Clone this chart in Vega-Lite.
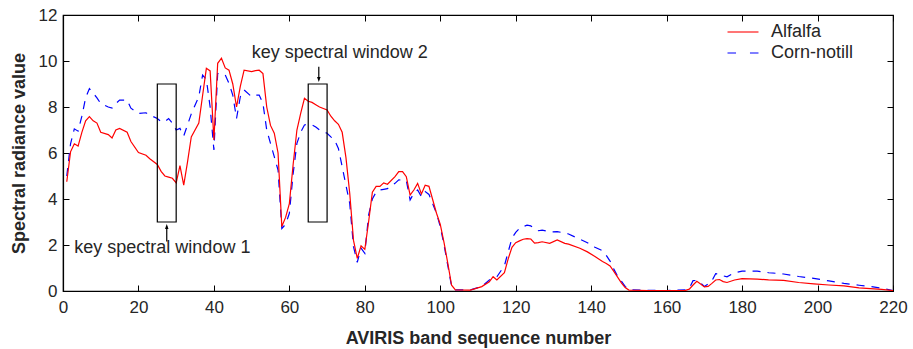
{
  "$schema": "https://vega.github.io/schema/vega-lite/v6.json",
  "width": 830,
  "height": 276,
  "autosize": "none",
  "padding": {"left": 63, "top": 15, "right": 20, "bottom": 58},
  "config": {
    "view": {"stroke": "black", "strokeWidth": 1.2},
    "font": "Liberation Sans",
    "axis": {
      "grid": false,
      "domainColor": "black",
      "domainWidth": 1.2,
      "tickColor": "black",
      "tickWidth": 1,
      "tickSize": -6,
      "labelColor": "#262626",
      "labelFont": "Liberation Sans",
      "labelFontSize": 17,
      "titleFont": "Liberation Sans",
      "titleFontSize": 18,
      "titleFontWeight": "bold",
      "titleColor": "#262626"
    }
  },
  "datasets": {
    "spec": [
      {"b": 1, "Alfalfa": 4.75, "Corn-notill": 5.0},
      {"b": 2, "Alfalfa": 6.05, "Corn-notill": 6.4},
      {"b": 3, "Alfalfa": 6.4, "Corn-notill": 7.05},
      {"b": 4, "Alfalfa": 6.3, "Corn-notill": 6.95},
      {"b": 5, "Alfalfa": 6.9, "Corn-notill": 7.6},
      {"b": 6, "Alfalfa": 7.4, "Corn-notill": 8.4},
      {"b": 7, "Alfalfa": 7.58, "Corn-notill": 8.8},
      {"b": 8, "Alfalfa": 7.4, "Corn-notill": 8.6},
      {"b": 9, "Alfalfa": 7.3, "Corn-notill": 8.4},
      {"b": 10, "Alfalfa": 6.9, "Corn-notill": 8.15},
      {"b": 12, "Alfalfa": 6.8, "Corn-notill": 8.0},
      {"b": 13, "Alfalfa": 6.65, "Corn-notill": 7.95},
      {"b": 14, "Alfalfa": 7.0, "Corn-notill": 8.15},
      {"b": 15, "Alfalfa": 7.07, "Corn-notill": 8.3},
      {"b": 17, "Alfalfa": 6.9, "Corn-notill": 8.3},
      {"b": 18, "Alfalfa": 6.5, "Corn-notill": 7.95},
      {"b": 20, "Alfalfa": 6.02, "Corn-notill": 7.72},
      {"b": 22, "Alfalfa": 5.9, "Corn-notill": 7.75},
      {"b": 23, "Alfalfa": 5.75, "Corn-notill": 7.65},
      {"b": 25, "Alfalfa": 5.5, "Corn-notill": 7.5},
      {"b": 26, "Alfalfa": 5.2, "Corn-notill": 7.36},
      {"b": 27, "Alfalfa": 5.0, "Corn-notill": 7.36},
      {"b": 28, "Alfalfa": 4.95, "Corn-notill": 7.5},
      {"b": 29, "Alfalfa": 4.9, "Corn-notill": 7.3},
      {"b": 30, "Alfalfa": 4.7, "Corn-notill": 7.0},
      {"b": 31, "Alfalfa": 5.45, "Corn-notill": 7.07},
      {"b": 32, "Alfalfa": 4.6, "Corn-notill": 6.74},
      {"b": 33, "Alfalfa": 5.6, "Corn-notill": 7.22},
      {"b": 34, "Alfalfa": 6.7, "Corn-notill": 7.7},
      {"b": 36, "Alfalfa": 7.3, "Corn-notill": 8.45},
      {"b": 37, "Alfalfa": 8.5, "Corn-notill": 9.39},
      {"b": 38, "Alfalfa": 9.68, "Corn-notill": 9.2},
      {"b": 39, "Alfalfa": 9.57, "Corn-notill": 8.0},
      {"b": 40, "Alfalfa": 6.57, "Corn-notill": 6.13},
      {"b": 41, "Alfalfa": 9.9, "Corn-notill": 9.46},
      {"b": 42, "Alfalfa": 10.12, "Corn-notill": 9.45},
      {"b": 43, "Alfalfa": 9.7, "Corn-notill": 9.39},
      {"b": 44, "Alfalfa": 9.6, "Corn-notill": 9.03},
      {"b": 45, "Alfalfa": 9.0, "Corn-notill": 8.52},
      {"b": 46, "Alfalfa": 8.0, "Corn-notill": 7.5},
      {"b": 47, "Alfalfa": 8.9, "Corn-notill": 8.45},
      {"b": 48, "Alfalfa": 9.6, "Corn-notill": 8.74},
      {"b": 50, "Alfalfa": 9.54, "Corn-notill": 8.45},
      {"b": 51, "Alfalfa": 9.58, "Corn-notill": 8.52},
      {"b": 52, "Alfalfa": 9.6, "Corn-notill": 8.52},
      {"b": 53, "Alfalfa": 9.45, "Corn-notill": 8.16},
      {"b": 54, "Alfalfa": 8.0, "Corn-notill": 7.0},
      {"b": 55, "Alfalfa": 7.2, "Corn-notill": 6.42},
      {"b": 56, "Alfalfa": 6.86, "Corn-notill": 5.84},
      {"b": 57, "Alfalfa": 6.0, "Corn-notill": 5.26},
      {"b": 58, "Alfalfa": 2.8, "Corn-notill": 2.72},
      {"b": 59, "Alfalfa": 3.2, "Corn-notill": 2.9},
      {"b": 60, "Alfalfa": 3.8, "Corn-notill": 3.38},
      {"b": 61, "Alfalfa": 5.5, "Corn-notill": 5.1},
      {"b": 62, "Alfalfa": 7.0, "Corn-notill": 6.42},
      {"b": 63, "Alfalfa": 7.72, "Corn-notill": 6.9},
      {"b": 64, "Alfalfa": 8.38, "Corn-notill": 7.22},
      {"b": 65, "Alfalfa": 8.25, "Corn-notill": 7.25},
      {"b": 66, "Alfalfa": 8.2, "Corn-notill": 7.22},
      {"b": 67, "Alfalfa": 8.1, "Corn-notill": 7.13},
      {"b": 68, "Alfalfa": 8.0, "Corn-notill": 7.0},
      {"b": 70, "Alfalfa": 7.87, "Corn-notill": 6.86},
      {"b": 71, "Alfalfa": 7.6, "Corn-notill": 6.7},
      {"b": 72, "Alfalfa": 7.4, "Corn-notill": 6.55},
      {"b": 73, "Alfalfa": 7.25, "Corn-notill": 6.2},
      {"b": 74, "Alfalfa": 6.9, "Corn-notill": 5.4},
      {"b": 75, "Alfalfa": 5.8, "Corn-notill": 4.6},
      {"b": 76, "Alfalfa": 4.25, "Corn-notill": 3.81},
      {"b": 77, "Alfalfa": 2.2, "Corn-notill": 1.93},
      {"b": 78, "Alfalfa": 1.42, "Corn-notill": 1.25},
      {"b": 79, "Alfalfa": 1.96, "Corn-notill": 1.86},
      {"b": 80, "Alfalfa": 1.81, "Corn-notill": 1.64},
      {"b": 81, "Alfalfa": 3.0, "Corn-notill": 3.3},
      {"b": 82, "Alfalfa": 4.3, "Corn-notill": 4.0},
      {"b": 83, "Alfalfa": 4.55, "Corn-notill": 4.3},
      {"b": 84, "Alfalfa": 4.55, "Corn-notill": 4.39},
      {"b": 85, "Alfalfa": 4.7, "Corn-notill": 4.42},
      {"b": 86, "Alfalfa": 4.64, "Corn-notill": 4.45},
      {"b": 88, "Alfalfa": 4.97, "Corn-notill": 4.68},
      {"b": 89, "Alfalfa": 5.19, "Corn-notill": 4.83},
      {"b": 90, "Alfalfa": 5.19, "Corn-notill": 4.82},
      {"b": 91, "Alfalfa": 4.97, "Corn-notill": 4.8},
      {"b": 92, "Alfalfa": 4.17, "Corn-notill": 3.96},
      {"b": 93, "Alfalfa": 4.39, "Corn-notill": 4.25},
      {"b": 94, "Alfalfa": 4.68, "Corn-notill": 4.39},
      {"b": 95, "Alfalfa": 4.22, "Corn-notill": 4.1},
      {"b": 96, "Alfalfa": 4.6, "Corn-notill": 4.32},
      {"b": 97, "Alfalfa": 4.55, "Corn-notill": 4.2},
      {"b": 99, "Alfalfa": 3.38, "Corn-notill": 3.38},
      {"b": 100, "Alfalfa": 2.9, "Corn-notill": 2.8},
      {"b": 101, "Alfalfa": 2.1, "Corn-notill": 2.0},
      {"b": 102, "Alfalfa": 1.2, "Corn-notill": 1.1},
      {"b": 103, "Alfalfa": 0.25, "Corn-notill": 0.2},
      {"b": 104, "Alfalfa": 0.05, "Corn-notill": 0.05},
      {"b": 108, "Alfalfa": 0.04, "Corn-notill": 0.05},
      {"b": 111, "Alfalfa": 0.19, "Corn-notill": 0.2},
      {"b": 113, "Alfalfa": 0.4, "Corn-notill": 0.48},
      {"b": 114, "Alfalfa": 0.62, "Corn-notill": 0.55},
      {"b": 115, "Alfalfa": 0.48, "Corn-notill": 0.62},
      {"b": 117, "Alfalfa": 0.8, "Corn-notill": 1.1},
      {"b": 118, "Alfalfa": 1.4, "Corn-notill": 1.7},
      {"b": 119, "Alfalfa": 1.9, "Corn-notill": 2.3},
      {"b": 120, "Alfalfa": 2.1, "Corn-notill": 2.55},
      {"b": 121, "Alfalfa": 2.18, "Corn-notill": 2.72},
      {"b": 122, "Alfalfa": 2.25, "Corn-notill": 2.8},
      {"b": 123, "Alfalfa": 2.28, "Corn-notill": 2.86},
      {"b": 124, "Alfalfa": 2.26, "Corn-notill": 2.83},
      {"b": 125, "Alfalfa": 2.08, "Corn-notill": 2.7},
      {"b": 126, "Alfalfa": 2.1, "Corn-notill": 2.62},
      {"b": 127, "Alfalfa": 2.14, "Corn-notill": 2.65},
      {"b": 129, "Alfalfa": 2.07, "Corn-notill": 2.57},
      {"b": 131, "Alfalfa": 2.22, "Corn-notill": 2.58},
      {"b": 133, "Alfalfa": 2.07, "Corn-notill": 2.52},
      {"b": 134, "Alfalfa": 2.04, "Corn-notill": 2.48},
      {"b": 137, "Alfalfa": 1.86, "Corn-notill": 2.25},
      {"b": 139, "Alfalfa": 1.7, "Corn-notill": 2.1},
      {"b": 141, "Alfalfa": 1.5, "Corn-notill": 1.9},
      {"b": 143, "Alfalfa": 1.28, "Corn-notill": 1.75},
      {"b": 144, "Alfalfa": 1.2, "Corn-notill": 1.55},
      {"b": 145, "Alfalfa": 1.09, "Corn-notill": 1.3},
      {"b": 146, "Alfalfa": 0.85, "Corn-notill": 0.95},
      {"b": 147, "Alfalfa": 0.6, "Corn-notill": 0.65},
      {"b": 148, "Alfalfa": 0.35, "Corn-notill": 0.43},
      {"b": 149, "Alfalfa": 0.15, "Corn-notill": 0.2},
      {"b": 150, "Alfalfa": 0.04, "Corn-notill": 0.06},
      {"b": 155, "Alfalfa": 0.02, "Corn-notill": 0.03},
      {"b": 160, "Alfalfa": 0.02, "Corn-notill": 0.02},
      {"b": 165, "Alfalfa": 0.03, "Corn-notill": 0.05},
      {"b": 166, "Alfalfa": 0.08, "Corn-notill": 0.12},
      {"b": 167, "Alfalfa": 0.26, "Corn-notill": 0.45},
      {"b": 168, "Alfalfa": 0.42, "Corn-notill": 0.46},
      {"b": 169, "Alfalfa": 0.3, "Corn-notill": 0.35},
      {"b": 170, "Alfalfa": 0.18, "Corn-notill": 0.2},
      {"b": 171, "Alfalfa": 0.2, "Corn-notill": 0.3},
      {"b": 172, "Alfalfa": 0.33, "Corn-notill": 0.45},
      {"b": 173, "Alfalfa": 0.48, "Corn-notill": 0.75},
      {"b": 174, "Alfalfa": 0.5, "Corn-notill": 0.73},
      {"b": 175, "Alfalfa": 0.41, "Corn-notill": 0.66},
      {"b": 176, "Alfalfa": 0.37, "Corn-notill": 0.62},
      {"b": 178, "Alfalfa": 0.48, "Corn-notill": 0.8},
      {"b": 180, "Alfalfa": 0.54, "Corn-notill": 0.86},
      {"b": 184, "Alfalfa": 0.52, "Corn-notill": 0.86},
      {"b": 187, "Alfalfa": 0.48, "Corn-notill": 0.8},
      {"b": 191, "Alfalfa": 0.46, "Corn-notill": 0.74},
      {"b": 195, "Alfalfa": 0.37, "Corn-notill": 0.63},
      {"b": 199, "Alfalfa": 0.31, "Corn-notill": 0.55},
      {"b": 203, "Alfalfa": 0.26, "Corn-notill": 0.44},
      {"b": 207, "Alfalfa": 0.22, "Corn-notill": 0.33},
      {"b": 211, "Alfalfa": 0.14, "Corn-notill": 0.25},
      {"b": 214, "Alfalfa": 0.1, "Corn-notill": 0.2},
      {"b": 217, "Alfalfa": 0.07, "Corn-notill": 0.12},
      {"b": 220, "Alfalfa": 0.02, "Corn-notill": 0.02}
    ],
    "boxes": [
      {"x1": 25, "x2": 30, "y1": 3, "y2": 9},
      {"x1": 65, "x2": 70, "y1": 3, "y2": 9}
    ],
    "arrows": [
      {"x": 27.5, "y1": 2.15, "y2": 2.8, "dir": "up"},
      {"x": 67.8, "y1": 9.75, "y2": 9.2, "dir": "down"}
    ],
    "notes": [
      {"x": 3, "y": 1.85, "t": "key spectral window 1"},
      {"x": 50, "y": 10.35, "t": "key spectral window 2"}
    ]
  },
  "layer": [
    {
      "data": {"name": "spec"},
      "transform": [
        {"fold": ["Alfalfa", "Corn-notill"], "as": ["series", "value"]},
        {"filter": "datum.series === 'Corn-notill'"}
      ],
      "mark": {"type": "line", "strokeWidth": 1.2, "strokeDash": [8, 7], "clip": true},
      "encoding": {
        "x": {
          "field": "b", "type": "quantitative",
          "scale": {"domain": [0, 220], "nice": false},
          "axis": {"title": "AVIRIS band sequence number", "values": [0,20,40,60,80,100,120,140,160,180,200,220], "labelPadding": 14, "titlePadding": 14, "labelFlush": false}
        },
        "y": {
          "field": "value", "type": "quantitative",
          "scale": {"domain": [0, 12], "nice": false},
          "axis": {"title": "Spectral radiance value", "values": [0,2,4,6,8,10,12], "labelPadding": 12, "titlePadding": 10, "labelFlush": false}
        },
        "stroke": {
          "field": "series", "type": "nominal",
          "scale": {"domain": ["Alfalfa", "Corn-notill"], "range": ["#ff0000", "#0000ff"]},
          "legend": {
            "title": null, "orient": "none", "legendX": 671, "legendY": 8,
            "symbolType": "M-2,-0.07H2V0.07H-2Z", "symbolSize": 240, "symbolStrokeWidth": 0,
            "labelFontSize": 18, "labelColor": "#262626", "labelFont": "Liberation Sans",
            "labelOffset": 19, "rowPadding": 3,
            "encode": {
              "symbols": {
                "enter": {
                  "fill": {"signal": "datum.value === 'Alfalfa' ? '#ff0000' : '#0000ff'"},
                  "stroke": {"signal": "datum.value === 'Alfalfa' ? '#ff0000' : '#0000ff'"}
                },
                "update": {
                  "fill": {"signal": "datum.value === 'Alfalfa' ? '#ff0000' : '#0000ff'"},
                  "stroke": {"signal": "datum.value === 'Alfalfa' ? '#ff0000' : '#0000ff'"},
                  "strokeWidth": {"value": 0},
                  "shape": {"signal": "datum.value === 'Alfalfa' ? 'M-2,-0.07H2V0.07H-2Z' : 'M-2,-0.07H-0.9V0.07H-2Z M0.9,-0.07H2V0.07H0.9Z'"}
                }
              }
            }
          }
        }
      }
    },
    {
      "data": {"name": "spec"},
      "transform": [
        {"fold": ["Alfalfa", "Corn-notill"], "as": ["series", "value"]},
        {"filter": "datum.series === 'Alfalfa'"}
      ],
      "mark": {"type": "line", "strokeWidth": 1.2, "clip": true},
      "encoding": {
        "x": {"field": "b", "type": "quantitative", "axis": null},
        "y": {"field": "value", "type": "quantitative", "axis": null},
        "stroke": {"field": "series", "type": "nominal"}
      }
    },
    {
      "data": {"name": "boxes"},
      "mark": {"type": "rect", "fill": null, "fillOpacity": 0, "stroke": "black", "strokeWidth": 1.2},
      "encoding": {
        "x": {"field": "x1", "type": "quantitative", "axis": null},
        "x2": {"field": "x2"},
        "y": {"field": "y1", "type": "quantitative", "axis": null},
        "y2": {"field": "y2"}
      }
    },
    {
      "data": {"name": "arrows"},
      "mark": {"type": "rule", "color": "black", "strokeWidth": 1.2},
      "encoding": {
        "x": {"field": "x", "type": "quantitative", "axis": null},
        "y": {"field": "y1", "type": "quantitative", "axis": null},
        "y2": {"field": "y2"}
      }
    },
    {
      "data": {"name": "arrows"},
      "mark": {"type": "point", "filled": true, "color": "black", "size": 25, "opacity": 1},
      "encoding": {
        "x": {"field": "x", "type": "quantitative", "axis": null},
        "y": {"field": "y2", "type": "quantitative", "axis": null},
        "shape": {
          "field": "dir", "type": "nominal",
          "scale": {"domain": ["up", "down"], "range": ["M0,-1L0.7,1L-0.7,1Z", "M0,1L0.7,-1L-0.7,-1Z"]},
          "legend": null
        }
      }
    },
    {
      "data": {"name": "notes"},
      "mark": {"type": "text", "align": "left", "baseline": "middle", "fontSize": 18, "font": "Liberation Sans", "color": "#262626"},
      "encoding": {
        "x": {"field": "x", "type": "quantitative", "axis": null},
        "y": {"field": "y", "type": "quantitative", "axis": null},
        "text": {"field": "t"}
      }
    },
    {
      "data": {"name": "boxes"},
      "mark": {"type": "point", "opacity": 0},
      "encoding": {
        "x": {"field": "x1", "type": "quantitative", "axis": {"orient": "top", "labels": false, "title": null, "domain": false, "values": [0,20,40,60,80,100,120,140,160,180,200,220]}},
        "y": {"field": "y1", "type": "quantitative", "axis": {"orient": "right", "labels": false, "title": null, "domain": false, "values": [0,2,4,6,8,10,12]}}
      }
    }
  ],
  "resolve": {"axis": {"x": "independent", "y": "independent"}}
}
